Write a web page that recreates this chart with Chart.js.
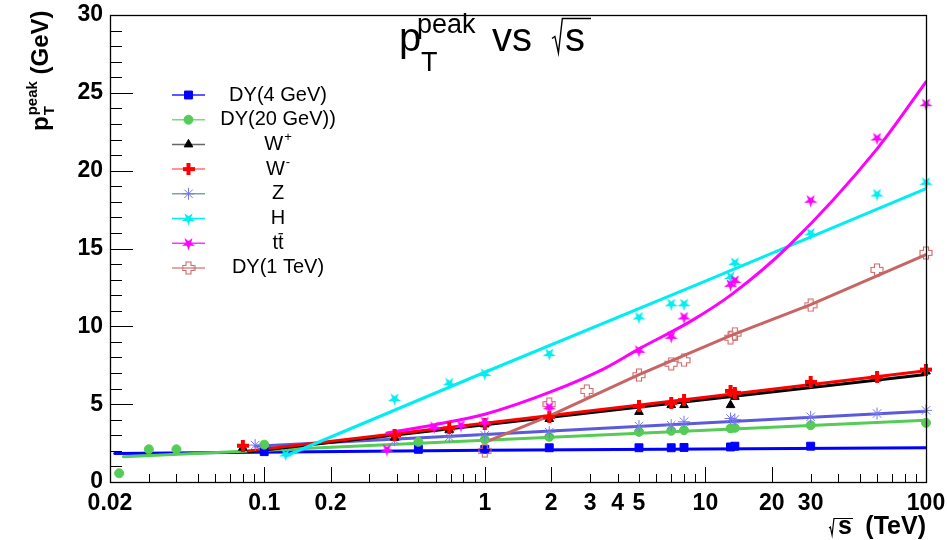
<!DOCTYPE html>
<html><head><meta charset="utf-8">
<script src="https://cdn.jsdelivr.net/npm/chart.js@4.4.1/dist/chart.umd.min.js"></script>
<style>html,body{margin:0;padding:0;background:#fff;}canvas{display:block;}</style>
</head><body>
<canvas id="c" width="947" height="540"></canvas>
<script>
// ---------- axis / tick data ----------
const xMin = 0.02, xMax = 100, yMin = 0, yMax = 30;
const yTickLabels = [0, 5, 10, 15, 20, 25, 30];
const yMinorTicks = [0,1,2,3,4,5,6,7,8,9,10,11,12,13,14,15,16,17,18,19,20,21,22,23,24,25,26,27,28,29,30];
const xTickValues = [0.02,0.03,0.04,0.05,0.06,0.07,0.08,0.09,0.1,0.2,0.3,0.4,0.5,0.6,0.7,0.8,0.9,1,2,3,4,5,6,7,8,9,10,20,30,40,50,60,70,80,90,100];
const xTickLabels = ['0.02','0.1','0.2','1','2','3','4','5','10','20','30','100'];
const xLongTicks = [0.1, 0.2, 1, 2, 10, 20, 100];

// ---------- series (markers) ----------
const energyDY4 = [0.1, 0.5, 1, 1.96, 5, 7, 8, 13, 13.6, 30];
const ptDY4     = [1.95, 2.1, 2.1, 2.2, 2.2, 2.2, 2.22, 2.25, 2.3, 2.3];
const energyDY20 = [0.022, 0.03, 0.04, 0.1, 0.5, 1, 1.96, 5, 7, 8, 13, 13.6, 30, 100];
const ptDY20     = [0.56, 2.1, 2.1, 2.4, 2.58, 2.73, 2.9, 3.22, 3.29, 3.33, 3.44, 3.48, 3.65, 3.8];
const energyWp = [0.08, 0.39, 0.69, 1, 1.96, 5, 7, 8, 13, 13.6, 30, 60, 100];
const ptWp     = [2.2, 2.85, 3.35, 3.7, 4.05, 4.5, 4.94, 4.94, 4.94, 5.47, 6.35, 6.65, 7.1];
const energyWm = [0.08, 0.39, 0.69, 1, 1.96, 5, 7, 8, 13, 13.6, 30, 60, 100];
const ptWm     = [2.33, 3.0, 3.44, 3.75, 4.19, 4.87, 5.08, 5.26, 5.85, 5.73, 6.43, 6.75, 7.22];
const energyZ = [0.091, 0.39, 0.69, 1, 1.96, 5, 7, 8, 13, 13.6, 30, 60, 100];
const ptZ     = [2.37, 2.69, 2.9, 3.0, 3.2, 3.59, 3.65, 3.87, 4.08, 4.02, 4.19, 4.4, 4.6];
const energyH = [0.125, 0.39, 0.69, 1, 1.96, 5, 7, 8, 13, 13.6, 30, 60, 100];
const ptH     = [1.8, 5.36, 6.37, 6.97, 8.25, 10.6, 11.45, 11.45, 13.2, 14.1, 16.0, 18.5, 19.25];
const energyTT = [0.36, 0.59, 0.78, 1, 1.96, 5, 7, 8, 13, 13.6, 30, 60, 100];
const ptTT     = [2.1, 3.55, 3.65, 3.87, 4.83, 8.46, 9.36, 10.6, 12.7, 12.95, 18.1, 22.1, 24.3];
const energyDY1T = [1, 1.96, 2.9, 5, 7, 8, 13, 13.6, 30, 60, 100];
const ptDY1T     = [2.0, 5.0, 5.85, 6.86, 7.6, 7.82, 9.27, 9.53, 11.35, 13.63, 14.72];

// ---------- fit curves ----------
const fitDY4X = [0.021, 1, 100],        fitDY4Y = [1.83, 2.04, 2.2];
const fitDY20X = [0.023, 1, 100],       fitDY20Y = [1.62, 2.68, 3.97];
const fitWpX = [0.085, 1, 10, 100],     fitWpY = [1.95, 3.68, 5.3, 6.9];
const fitWmX = [0.085, 1, 10, 100],     fitWmY = [2.0, 3.78, 5.45, 7.15];
const fitZX = [0.091, 1, 100],          fitZY = [2.3, 3.05, 4.55];
const fitHX = [0.125, 1, 10, 100],      fitHY = [1.67, 7.05, 12.9, 18.85];
const fitTTX = [0.36, 0.6, 1, 2, 3.5, 5, 8.75, 13.3, 24, 60, 100];
const fitTTY = [3.15, 3.7, 4.35, 5.8, 7.3, 8.55, 10.4, 12.1, 15.2, 21.4, 25.7];
const fitDY1TX = [1, 2, 5, 13, 30, 100], fitDY1TY = [2.55, 4.3, 6.9, 9.4, 11.4, 14.6];

// ---------- legend ----------
const legendMain = ['DY(4 GeV)', 'DY(20 GeV))', 'W', 'W', 'Z', 'H', 'tt', 'DY(1 TeV)'];
const legendSup  = ['', '', '+', '-', '', '', '', ''];

// ---------- styles ----------
const col = {
  dy4: '#0000ff', dy20: '#55cc55', wp: '#000000', wm: '#ff0000',
  zMark: '#7777ee', zLine: '#5a5ada', h: '#00eef2', tt: '#ff00ff',
  dy1tMark: '#cc6666', dy1tLine: '#c86464'
};
const legLine = ['#2222ff', '#77dd77', '#666666', '#ff7070', '#77a8a8', '#00f0f0', '#ff33ff', '#dd8888'];

function mk(w, h, fn) { const c = document.createElement('canvas'); c.width = w; c.height = h; fn(c.getContext('2d'), w, h); return c; }
const thickCross = (color) => mk(12, 12, (g) => { g.fillStyle = color; g.fillRect(4, 0, 4, 12); g.fillRect(0, 4, 12, 4); });
const openCross = (color) => mk(14, 14, (g) => {
  g.strokeStyle = color; g.lineWidth = 1.1;
  g.beginPath();
  g.moveTo(4.5, 1); g.lineTo(9.5, 1); g.lineTo(9.5, 4.5); g.lineTo(13, 4.5); g.lineTo(13, 9.5); g.lineTo(9.5, 9.5);
  g.lineTo(9.5, 13); g.lineTo(4.5, 13); g.lineTo(4.5, 9.5); g.lineTo(1, 9.5); g.lineTo(1, 4.5); g.lineTo(4.5, 4.5); g.closePath();
  g.stroke();
});
// inverted five-pointed star
const starDown = (color) => mk(15, 15, (g) => {
  g.fillStyle = color; const cx = 7.5, cy = 7.8, R = 7, r = 2.6;
  g.beginPath();
  for (let k = 0; k < 10; k++) {
    const ang = Math.PI / 2 + k * Math.PI / 5; // starts pointing down
    const rad = k % 2 === 0 ? R : r;
    const px = cx + rad * Math.cos(ang), py = cy + rad * Math.sin(ang);
    if (k === 0) g.moveTo(px, py); else g.lineTo(px, py);
  }
  g.closePath(); g.fill();
});
const styleWm = thickCross(col.wm), styleDY1T = openCross(col.dy1tMark);
const styleH = starDown(col.h), styleTT = starDown(col.tt);

const pts = (xs, ys) => xs.map((v, i) => ({ x: v, y: ys[i] }));
const markerSet = (label, xs, ys, color, style, radius, order) => ({
  label, data: pts(xs, ys), showLine: false, pointStyle: style, pointRadius: radius, pointHoverRadius: radius,
  backgroundColor: color, borderColor: color, pointBorderWidth: 1, clip: false, order
});
const fitSet = (label, xs, ys, color, order, curved) => ({
  label, data: pts(xs, ys), showLine: true, pointRadius: 0, borderColor: color, borderWidth: 3,
  tension: 0, cubicInterpolationMode: curved ? 'monotone' : 'default', fill: false, order
});

const markerStyles = [
  { s: 'rect', c: col.dy4, r: 5.6 }, { s: 'circle', c: col.dy20, r: 4.5 }, { s: 'triangle', c: col.wp, r: 5 },
  { s: styleWm, c: col.wm, r: 6 }, { s: 'star', c: col.zMark, r: 6 }, { s: styleH, c: col.h, r: 7 },
  { s: styleTT, c: col.tt, r: 7 }, { s: styleDY1T, c: col.dy1tMark, r: 7 }
];

const datasets = [
  fitSet('fit DY4', fitDY4X, fitDY4Y, col.dy4, 30),
  fitSet('fit DY20', fitDY20X, fitDY20Y, col.dy20, 29),
  fitSet('fit Z', fitZX, fitZY, col.zLine, 28),
  fitSet('fit W+', fitWpX, fitWpY, col.wp, 27),
  fitSet('fit W-', fitWmX, fitWmY, col.wm, 26),
  fitSet('fit DY1T', fitDY1TX, fitDY1TY, col.dy1tLine, 25),
  fitSet('fit H', fitHX, fitHY, col.h, 24),
  fitSet('fit tt', fitTTX, fitTTY, col.tt, 23, true),
  markerSet('DY(4 GeV)', energyDY4, ptDY4, col.dy4, 'rect', 5.6, 10),
  markerSet('DY(20 GeV))', energyDY20, ptDY20, col.dy20, 'circle', 4.5, 9),
  markerSet('Z', energyZ, ptZ, col.zMark, 'star', 6, 8),
  markerSet('W+', energyWp, ptWp, col.wp, 'triangle', 5, 7),
  markerSet('W-', energyWm, ptWm, col.wm, styleWm, 6, 6),
  markerSet('DY(1 TeV)', energyDY1T, ptDY1T, col.dy1tMark, styleDY1T, 7, 5),
  markerSet('H', energyH, ptH, col.h, styleH, 7, 4),
  markerSet('tt', energyTT, ptTT, col.tt, styleTT, 7, 3)
];

const FONT = '"Liberation Sans", Arial, Helvetica, sans-serif';

function sqrtSign(ctx, x0, yTop, yBot, xEnd, lw) {
  // radical sign drawn as strokes: small hook, down-stroke, up-stroke, overbar
  const w = (yBot - yTop) * 0.3;
  ctx.lineWidth = lw; ctx.lineJoin = 'miter';
  ctx.beginPath();
  ctx.moveTo(x0, yBot - (yBot - yTop) * 0.42);
  ctx.lineTo(x0 + w * 0.28, yBot - (yBot - yTop) * 0.48);
  ctx.lineTo(x0 + w * 0.62, yBot);
  ctx.lineTo(x0 + w, yTop);
  ctx.lineTo(xEnd, yTop);
  ctx.stroke();
}

const decor = {
  id: 'decor',
  afterDatasetsDraw(chart) {
    const { ctx, chartArea: a, scales: { x, y } } = chart;
    ctx.save();
    ctx.strokeStyle = '#000'; ctx.lineWidth = 1;
    ctx.beginPath();
    yMinorTicks.forEach(v => {
      const py = Math.round(y.getPixelForValue(v)) + 0.5;
      const len = yTickLabels.includes(v) ? 23 : 12;
      ctx.moveTo(a.left, py); ctx.lineTo(a.left + len, py);
    });
    xTickValues.forEach(v => {
      const px = Math.round(x.getPixelForValue(v)) + 0.5;
      const len = xLongTicks.includes(v) ? 15 : 8;
      ctx.moveTo(px, a.bottom); ctx.lineTo(px, a.bottom - len);
    });
    ctx.stroke();
    ctx.lineWidth = 1.3;
    ctx.strokeRect(Math.round(a.left) + 0.5, Math.round(a.top) + 0.5, Math.round(a.right - a.left), Math.round(a.bottom - a.top));
    ctx.restore();
  },
  afterDraw(chart) {
    const ctx = chart.ctx;
    ctx.save();
    ctx.fillStyle = '#000'; ctx.strokeStyle = '#000'; ctx.textAlign = 'left'; ctx.textBaseline = 'alphabetic';
    // Title: p_T^peak vs sqrt(s)
    ctx.font = '40px ' + FONT; ctx.fillText('p', 399, 51);
    ctx.font = '27px ' + FONT; ctx.fillText('peak', 417, 33); ctx.fillText('T', 421, 71);
    ctx.font = '40px ' + FONT; ctx.fillText('vs', 492, 51);
    sqrtSign(ctx, 552, 18.5, 53, 591, 1.4);
    ctx.font = '40px ' + FONT; ctx.fillText('s', 565, 51);

    // X axis title
    ctx.font = 'bold 25px ' + FONT; ctx.textAlign = 'right';
    ctx.fillText('(TeV)', 926, 534);
    ctx.textAlign = 'left';
    ctx.fillText('s', 838, 534);
    sqrtSign(ctx, 829, 518.5, 535, 853, 1.2);

    // Y axis title (rotated)
    ctx.save();
    ctx.translate(48, 131); ctx.rotate(-Math.PI / 2);
    ctx.font = 'bold 24px ' + FONT; ctx.fillText('p', 0, 0);
    const wp = ctx.measureText('p').width;
    ctx.font = 'bold 15px ' + FONT; ctx.fillText('peak', wp + 1, -11); ctx.fillText('T', wp + 1, 6);
    const wpk = ctx.measureText('peak').width;
    ctx.font = 'bold 24px ' + FONT; ctx.fillText(' (GeV)', wp + 1 + wpk, 0);
    ctx.restore();

    // Legend
    const rowY0 = 95, rowDY = 24.7, lx0 = 172, lx1 = 205, mx = 188.5, tx = 278;
    ctx.textBaseline = 'middle';
    legendMain.forEach((t, i) => {
      const yy = rowY0 + i * rowDY;
      ctx.strokeStyle = legLine[i]; ctx.lineWidth = 1.5;
      ctx.beginPath(); ctx.moveTo(lx0, yy); ctx.lineTo(lx1, yy); ctx.stroke();
      const m = markerStyles[i];
      if (typeof m.s === 'string') {
        ctx.fillStyle = m.c; ctx.strokeStyle = m.c; ctx.lineWidth = 1;
        Chart.helpers.drawPoint(ctx, { pointStyle: m.s, radius: m.r, rotation: 0, borderWidth: 1 }, mx, yy);
      } else {
        ctx.drawImage(m.s, mx - m.s.width / 2, yy - m.s.height / 2);
      }
      ctx.fillStyle = '#000';
      ctx.font = '20px ' + FONT;
      const wMain = ctx.measureText(t).width;
      let wSup = 0;
      if (legendSup[i]) { ctx.font = '13px ' + FONT; wSup = ctx.measureText(legendSup[i]).width + 1; }
      const start = tx - (wMain + wSup) / 2;
      ctx.font = '20px ' + FONT; ctx.textAlign = 'left';
      ctx.fillText(t, start, yy);
      if (legendSup[i]) { ctx.font = '13px ' + FONT; ctx.fillText(legendSup[i], start + wMain + 1, yy - 7); }
      if (t === 'tt') {
        ctx.font = '20px ' + FONT;
        const w1 = ctx.measureText('t').width;
        ctx.strokeStyle = '#000'; ctx.lineWidth = 1.2;
        ctx.beginPath(); ctx.moveTo(start + w1 + 0.5, yy - 9.5); ctx.lineTo(start + 2 * w1 - 0.5, yy - 9.5); ctx.stroke();
      }
    });
    ctx.restore();
  }
};

new Chart(document.getElementById('c'), {
  type: 'scatter',
  data: { datasets },
  options: {
    responsive: false, animation: false, devicePixelRatio: 1,
    layout: { padding: { top: 15, right: 21, left: 0, bottom: 0 } },
    plugins: { legend: { display: false }, tooltip: { enabled: false }, title: { display: false } },
    elements: { line: { borderCapStyle: 'round' } },
    scales: {
      x: {
        type: 'logarithmic', min: xMin, max: xMax,
        grid: { display: false, drawTicks: false }, border: { display: false },
        afterBuildTicks: (axis) => { axis.ticks = xTickValues.map(v => ({ value: v })); },
        afterFit: (s) => { s.height = 58; s.paddingLeft = 0; s.paddingRight = 0; },
        ticks: {
          autoSkip: false, maxRotation: 0, minRotation: 0, padding: 8, color: '#000',
          font: { family: FONT, size: 23, weight: 'bold' },
          callback: (v) => { const lab = xTickLabels.find(l => Math.abs(parseFloat(l) - v) < 1e-9 * Math.max(1, v)); return lab || ''; }
        }
      },
      y: {
        type: 'linear', min: yMin, max: yMax,
        grid: { display: false, drawTicks: false }, border: { display: false },
        afterBuildTicks: (axis) => { axis.ticks = yTickLabels.map(v => ({ value: v })); },
        afterFit: (s) => { s.width = 110; s.paddingTop = 0; s.paddingBottom = 0; },
        ticks: { padding: 7, color: '#000', font: { family: FONT, size: 23, weight: 'bold' } }
      }
    }
  },
  plugins: [decor]
});
</script>
</body></html>
